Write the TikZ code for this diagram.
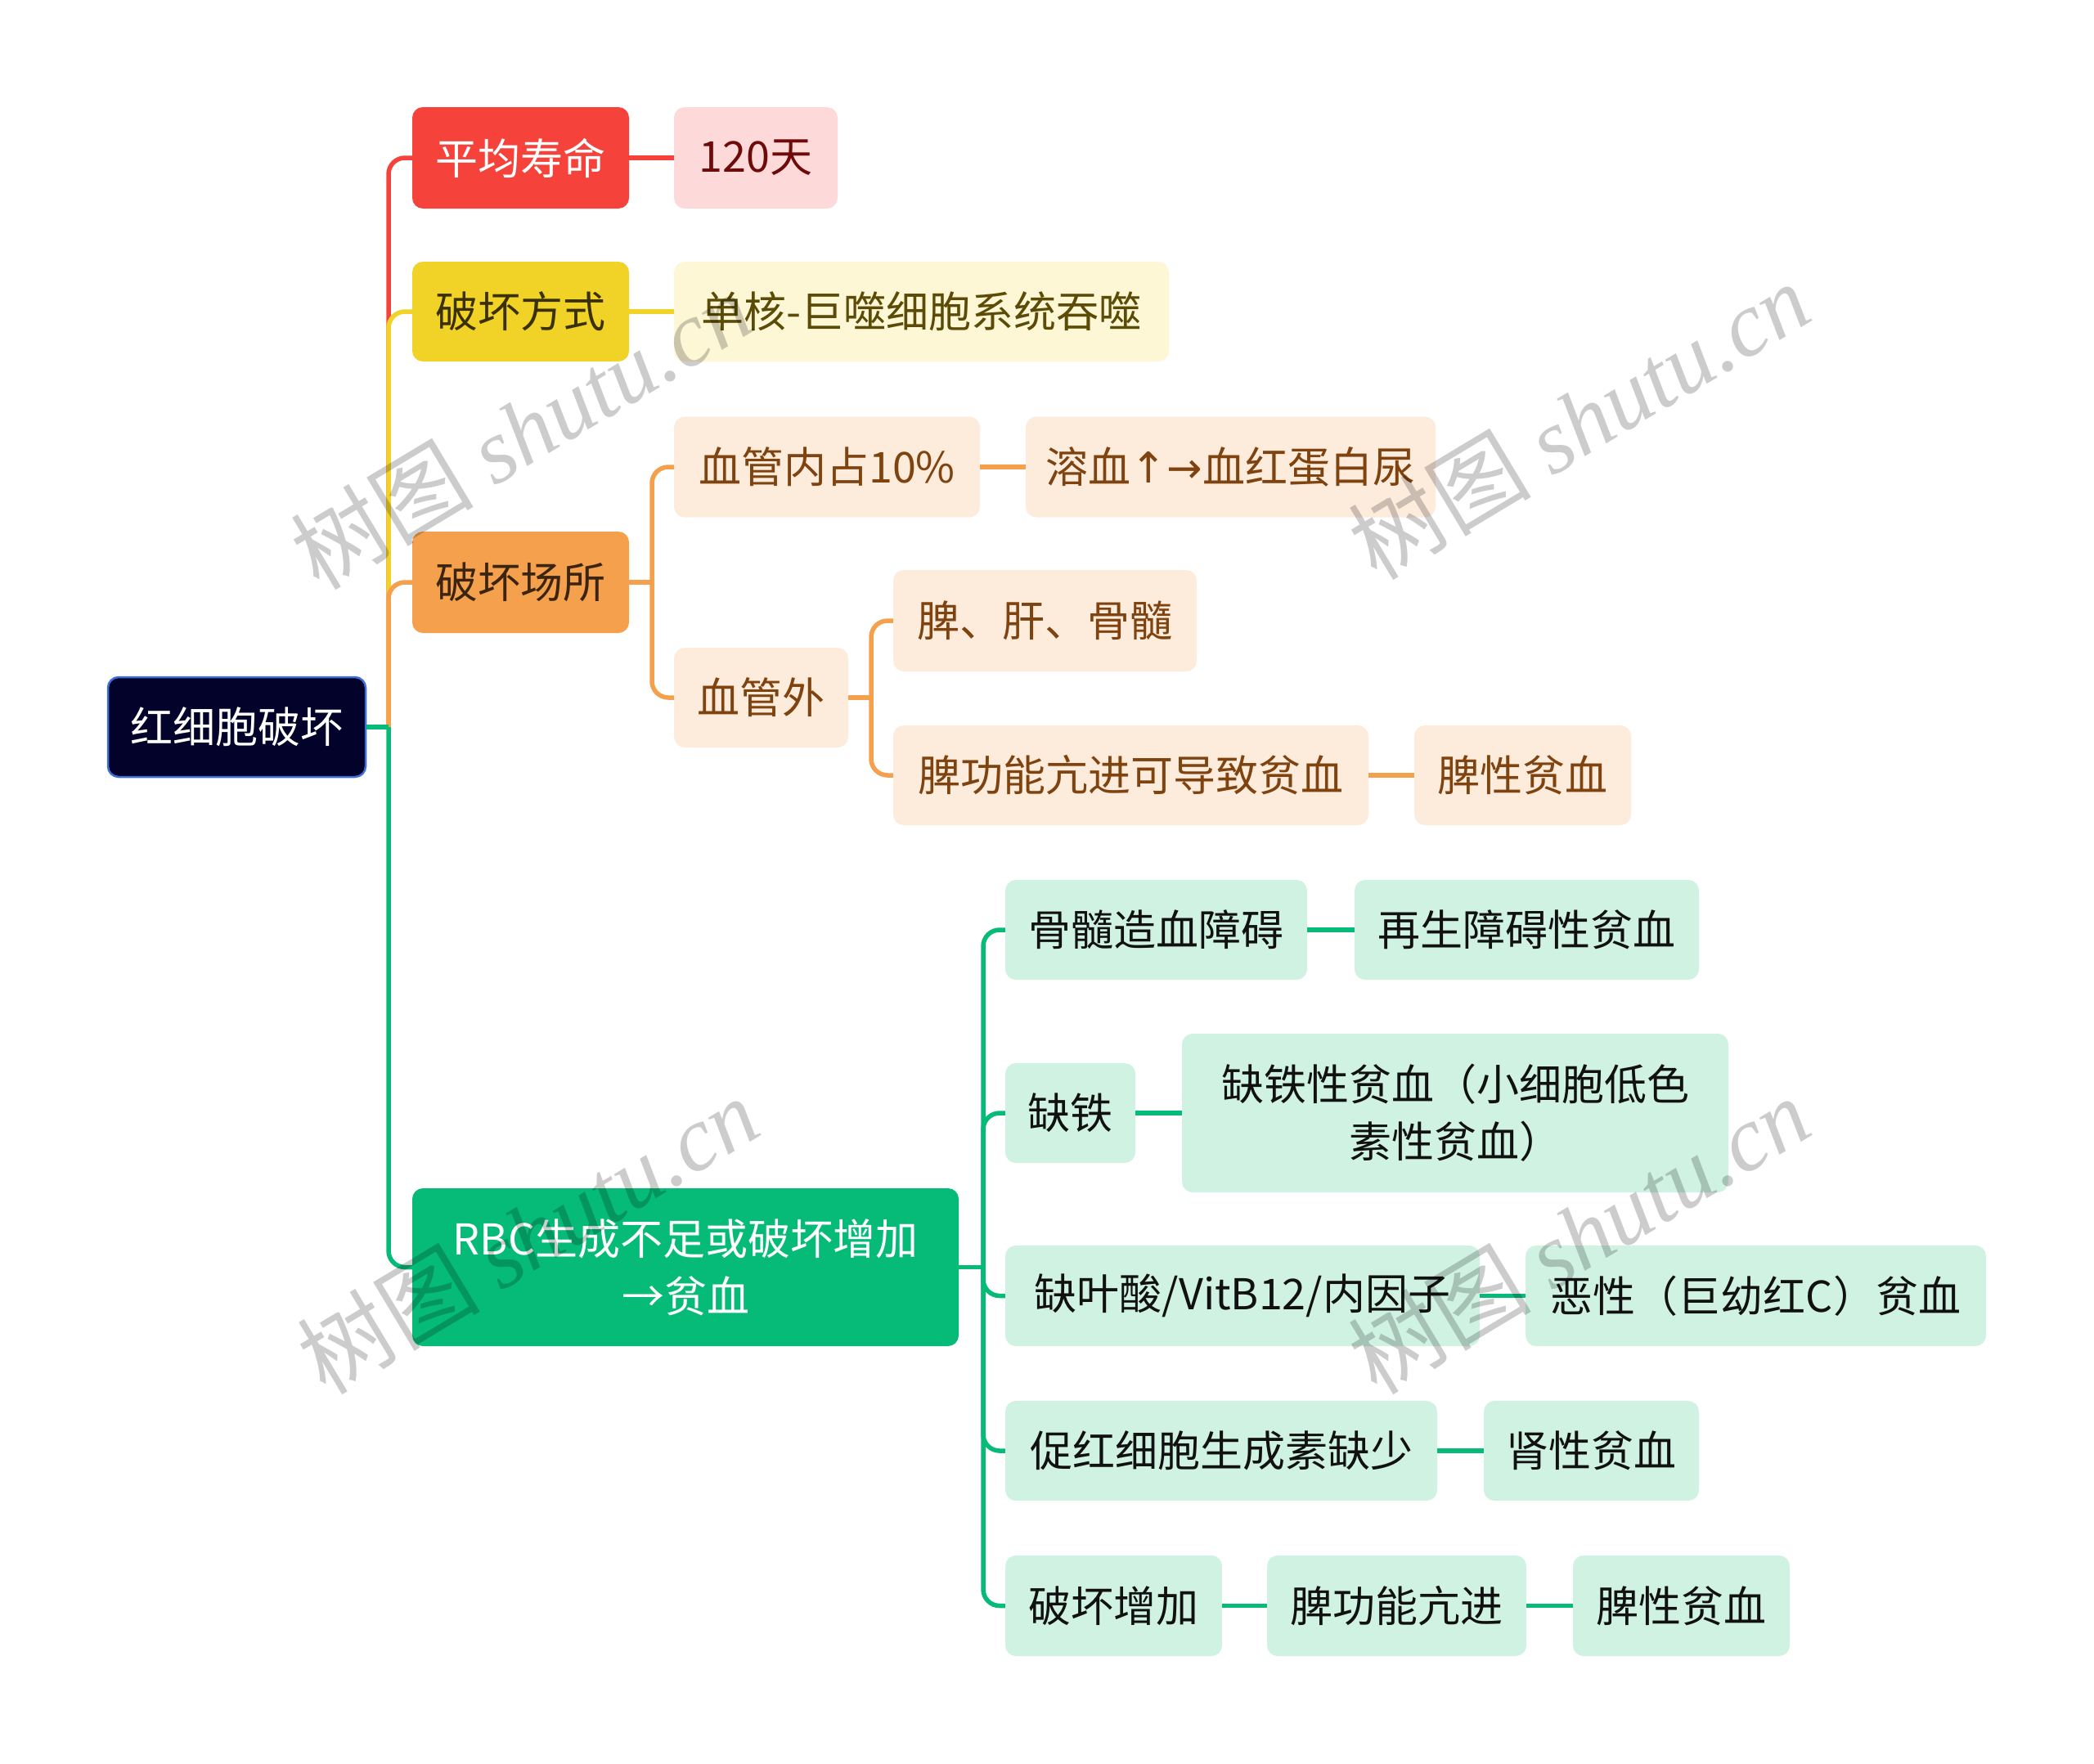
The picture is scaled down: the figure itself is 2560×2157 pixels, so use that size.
\documentclass[tikz,border=0pt]{standalone}
\usepackage{fontspec}
\newfontfamily\cjk{Noto Sans CJK SC}
\newfontfamily\wmfont{Liberation Serif}
\newfontfamily\arrfont{DejaVu Sans}
\definecolor{cNavy}{HTML}{02022A}
\definecolor{cNavyB}{HTML}{3D6FD6}
\definecolor{cRed}{HTML}{F5433B}
\definecolor{cRedLt}{HTML}{FDD9D9}
\definecolor{cRedTx}{HTML}{6E0A0A}
\definecolor{cYel}{HTML}{F0D326}
\definecolor{cYelLt}{HTML}{FDF7D5}
\definecolor{cYelTx}{HTML}{5B4B07}
\definecolor{cYelTxD}{HTML}{3A3000}
\definecolor{cOr}{HTML}{F4A04C}
\definecolor{cOrLt}{HTML}{FDEBDC}
\definecolor{cOrTx}{HTML}{7F4310}
\definecolor{cOrTxD}{HTML}{3B2410}
\definecolor{cGr}{HTML}{06BA78}
\definecolor{cGrLt}{HTML}{D0F2E3}
\definecolor{cGrTx}{HTML}{111111}
\begin{document}
\begin{tikzpicture}[x=1pt,y=-1pt,
  box/.style={rounded corners=13pt, inner sep=0pt, align=center, font=\cjk\fontsize{52}{70}\selectfont},
  ln/.style={line width=5.5pt},
  rc/.style={rounded corners=20pt},
  wm/.style={rotate=31, text=black, text opacity=0.2, font=\cjk\fontsize{112}{112}\selectfont}]
\useasboundingbox (0,0) rectangle (2560,2157);
\fill[white] (0,0) rectangle (2560,2157);

% root
\node[box, fill=cNavy, draw=cNavyB, line width=2.5pt, text=white, minimum width=315pt, minimum height=122pt] (root) at (289.5,889) {红细胞破坏};

% level 1
\node[box, fill=cRed, text=white, minimum width=265pt, minimum height=124pt] (n1) at (636.5,193) {平均寿命};
\node[box, fill=cYel, text=cYelTxD, minimum width=265pt, minimum height=122pt] (n2) at (636.5,381) {破坏方式};
\node[box, fill=cOr, text=cOrTxD, minimum width=265pt, minimum height=124pt] (n3) at (636.5,712) {破坏场所};
\node[box, fill=cGr, text=white, minimum width=668pt, minimum height=193pt] (n4) at (838,1549.5) {RBC生成不足或破坏增加\\→贫血};

% red branch
\node[box, fill=cRedLt, text=cRedTx, minimum width=200pt, minimum height=124pt] (n1a) at (924,193) {120天};
% yellow branch
\node[box, fill=cYelLt, text=cYelTx, minimum width=605pt, minimum height=122pt] (n2a) at (1126.5,381) {单核-巨噬细胞系统吞噬};
% orange branch
\node[box, fill=cOrLt, text=cOrTx, minimum width=374pt, minimum height=123pt] (n3a) at (1011,571) {血管内占10\%};
\node[box, fill=cOrLt, text=cOrTx, minimum width=501pt, minimum height=123pt] (n3a1) at (1504.5,571) {溶血{\arrfont ↑→}血红蛋白尿};
\node[box, fill=cOrLt, text=cOrTx, minimum width=213pt, minimum height=122pt] (n3b) at (930.5,853) {血管外};
\node[box, fill=cOrLt, text=cOrTx, minimum width=371pt, minimum height=124pt] (n3b1) at (1277.5,759) {脾、肝、骨髓};
\node[box, fill=cOrLt, text=cOrTx, minimum width=581pt, minimum height=122pt] (n3b2) at (1382.5,948) {脾功能亢进可导致贫血};
\node[box, fill=cOrLt, text=cOrTx, minimum width=265pt, minimum height=122pt] (n3b2a) at (1861.5,948) {脾性贫血};

% green branch
\node[box, fill=cGrLt, text=cGrTx, minimum width=369pt, minimum height=122pt] (g1) at (1413.5,1137) {骨髓造血障碍};
\node[box, fill=cGrLt, text=cGrTx, minimum width=421pt, minimum height=122pt] (g1a) at (1866.5,1137) {再生障碍性贫血};
\node[box, fill=cGrLt, text=cGrTx, minimum width=159pt, minimum height=122pt] (g2) at (1308.5,1361) {缺铁};
\node[box, fill=cGrLt, text=cGrTx, minimum width=668pt, minimum height=194pt] (g2a) at (1779,1361) {缺铁性贫血（小细胞低色\\素性贫血）};
\node[box, fill=cGrLt, text=cGrTx, minimum width=580pt, minimum height=123pt] (g3) at (1519,1584.5) {缺叶酸/VitB12/内因子};
\node[box, fill=cGrLt, text=cGrTx, minimum width=563pt, minimum height=123pt] (g3a) at (2146.5,1584.5) {恶性（巨幼红C）贫血};
\node[box, fill=cGrLt, text=cGrTx, minimum width=528pt, minimum height=122pt] (g4) at (1493,1774) {促红细胞生成素缺少};
\node[box, fill=cGrLt, text=cGrTx, minimum width=263pt, minimum height=122pt] (g4a) at (1945.5,1774) {肾性贫血};
\node[box, fill=cGrLt, text=cGrTx, minimum width=265pt, minimum height=123pt] (g5) at (1361.5,1963.5) {破坏增加};
\node[box, fill=cGrLt, text=cGrTx, minimum width=317pt, minimum height=123pt] (g5a) at (1707.5,1963.5) {脾功能亢进};
\node[box, fill=cGrLt, text=cGrTx, minimum width=265pt, minimum height=123pt] (g5b) at (2055.5,1963.5) {脾性贫血};

% junctions
\coordinate (j0) at (475,889);
\coordinate (j3) at (797,712);
\coordinate (j3b) at (1065,853);
\coordinate (j4) at (1202,1549.5);

% root connectors
\draw[ln,cRed,rc] (j0) |- (n1.west);
\draw[ln,cYel,rc] (j0) |- (n2.west);
\draw[ln,cOr,rc] (j0) |- (n3.west);
\draw[ln,cGr,rc] (j0) |- (n4.west);
\draw[ln,cGr] (root.east) -- (j0);

% simple links
\draw[ln,cRed] (n1.east) -- (n1a.west);
\draw[ln,cYel] (n2.east) -- (n2a.west);
\draw[ln,cOr] (n3a.east) -- (n3a1.west);
\draw[ln,cOr] (n3b2.east) -- (n3b2a.west);

% orange subtree
\draw[ln,cOr] (n3.east) -- (j3);
\draw[ln,cOr,rc] (j3) |- (n3a.west);
\draw[ln,cOr,rc] (j3) |- (n3b.west);
\draw[ln,cOr] (n3b.east) -- (j3b);
\draw[ln,cOr,rc] (j3b) |- (n3b1.west);
\draw[ln,cOr,rc] (j3b) |- (n3b2.west);

% green subtree
\draw[ln,cGr] (n4.east) -- (j4);
\draw[ln,cGr,rc] (j4) |- (g1.west);
\draw[ln,cGr,rc] (j4) |- (g2.west);
\draw[ln,cGr,rc] (j4) |- (g3.west);
\draw[ln,cGr,rc] (j4) |- (g4.west);
\draw[ln,cGr,rc] (j4) |- (g5.west);
\draw[ln,cGr] (g1.east) -- (g1a.west);
\draw[ln,cGr] (g2.east) -- (g2a.west);
\draw[ln,cGr] (g3.east) -- (g3a.west);
\draw[ln,cGr] (g4.east) -- (g4a.west);
\draw[ln,cGr] (g5.east) -- (g5a.west);
\draw[ln,cGr] (g5a.east) -- (g5b.west);

% watermarks
\node[wm] (wm1) at (637,526) {树图 {\wmfont\itshape shutu.cn}};
\node[wm] (wm2) at (1930,514) {树图 {\wmfont\itshape shutu.cn}};
\node[wm] (wm3) at (645,1510) {树图 {\wmfont\itshape shutu.cn}};
\node[wm] (wm4) at (1930,1510) {树图 {\wmfont\itshape shutu.cn}};
\end{tikzpicture}
\end{document}
